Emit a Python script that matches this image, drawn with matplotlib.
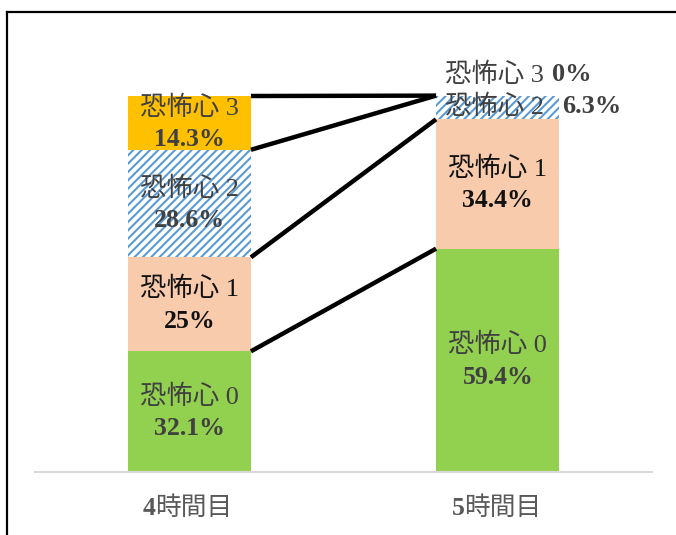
import matplotlib
matplotlib.use('Agg')
import matplotlib.pyplot as plt
from matplotlib.lines import Line2D

# --- Data ---
HOURS = ['4時間目', '5時間目']
LEVELS = ['恐怖心 0', '恐怖心 1', '恐怖心 2', '恐怖心 3']
VALUES_4 = [32.1, 25, 28.6, 14.3]
VALUES_5 = [59.4, 34.4, 6.3, 0]

COLORS = ['#92D050', '#F8CBAD', 'white', '#FFC000']
TEXT_COLORS = ['#404040', '#111111', '#404040', '#404040']
HATCH_BLUE = '#5B9BD5'
FONTS = ['Liberation Serif', 'Noto Sans CJK JP', 'DejaVu Sans']

plt.rcParams['font.family'] = FONTS
plt.rcParams['hatch.color'] = HATCH_BLUE
plt.rcParams['hatch.linewidth'] = 1.5

BAR_W = 0.4
LABEL_FS = 19
PCT_FS = 18.5

fig = plt.figure(figsize=(6.76, 5.35), dpi=100)
ax = fig.add_axes([35 / 676, 1 - 472 / 535, 617 / 676, 376 / 535])

series = [VALUES_4, VALUES_5]
tops = []
for xi, vals in enumerate(series):
    bottom = 0
    seg_tops = []
    for k, v in enumerate(vals):
        if k == 2:
            ax.bar(xi, v, BAR_W, bottom=bottom, color='white', edgecolor=HATCH_BLUE,
                   linewidth=0, hatch='////', zorder=2)
        else:
            ax.bar(xi, v, BAR_W, bottom=bottom, color=COLORS[k], linewidth=0, zorder=2)
        seg_tops.append(bottom + v)
        bottom += v
    tops.append(seg_tops)

# connector lines between segment tops
for k in range(len(LEVELS)):
    ax.plot([0 + BAR_W / 2, 1 - BAR_W / 2], [tops[0][k], tops[1][k]],
            color='black', lw=3.2, solid_capstyle='butt', zorder=3, clip_on=False)

# segment labels
for xi, vals in enumerate(series):
    bottom = 0
    for k, v in enumerate(vals):
        mid = bottom + v / 2
        if v >= 10:
            ax.text(xi, mid + 4.0, LEVELS[k], ha='center', va='center', fontsize=LABEL_FS,
                    color=TEXT_COLORS[k], zorder=4)
            ax.text(xi, mid - 4.5, f'{v:g}%', ha='center', va='center', fontsize=PCT_FS,
                    fontweight='bold', color=TEXT_COLORS[k], zorder=4)
        elif v > 0:
            ax.text(xi - BAR_W / 2 + 0.03, mid + 0.3, LEVELS[k], ha='left', va='center',
                    fontsize=LABEL_FS, color=TEXT_COLORS[k], zorder=4)
            ax.text(xi + BAR_W / 2 + 0.01, mid + 0.3, f'{v:g}%', ha='left', va='center',
                    fontsize=PCT_FS + 0.5, fontweight='bold', color=TEXT_COLORS[k], zorder=4)
        else:
            ax.text(xi - BAR_W / 2 + 0.03, bottom + 5.6, LEVELS[k], ha='left',
                    va='center', fontsize=LABEL_FS, color=TEXT_COLORS[k], zorder=4, clip_on=False)
            ax.text(xi + BAR_W / 2 - 0.023, bottom + 5.6, f'{v:g}%', ha='left',
                    va='center', fontsize=PCT_FS + 0.5, fontweight='bold', color=TEXT_COLORS[k],
                    zorder=4, clip_on=False)
        bottom += v

ax.set_xlim(-0.5, 1.5)
ax.set_ylim(0, 100)
ax.set_xticks(range(len(HOURS)))
ax.set_xticklabels([])
ax.tick_params(axis='x', length=0)
ax.set_yticks([])

# category labels: bold digit + regular kanji
for xi, name in enumerate(HOURS):
    ax.annotate(name[0], (xi, 0), xycoords=ax.get_xaxis_transform(),
                xytext=(-24, -26), textcoords='offset points', ha='right', va='center',
                fontsize=18.5, fontweight='bold', color='#595959', annotation_clip=False)
    ax.annotate(name[1:], (xi, 0), xycoords=ax.get_xaxis_transform(),
                xytext=(-24.5, -26), textcoords='offset points', ha='left', va='center',
                fontsize=18.5, color='#595959', annotation_clip=False)

for side in ['top', 'left', 'right']:
    ax.spines[side].set_visible(False)
ax.spines['bottom'].set_color('#D9D9D9')
ax.spines['bottom'].set_linewidth(1.5)

# outer frame (top and left edges)
fig.add_artist(Line2D([7 / 676, 7 / 676], [0, 1 - 12 / 535], color='black', lw=1.6))
fig.add_artist(Line2D([7 / 676, 1], [1 - 12 / 535, 1 - 12 / 535], color='black', lw=1.6))

fig.savefig('out.png', dpi=100)
